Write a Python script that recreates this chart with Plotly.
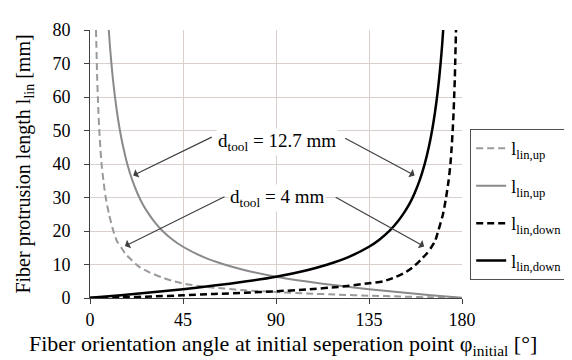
import plotly.graph_objects as go

# ---- data ----
# l_lin,up for d_tool = 4 mm (grey dashed)
phi_up_4 = [2.9, 3.1, 3.3, 3.5, 3.8, 4.1, 4.5, 5.0, 5.6, 6.5, 7.6, 9.2, 11.3, 13.0, 15.2, 17.0, 19.5, 24, 29, 35, 40, 46, 55, 65, 75, 90, 105, 120, 135, 150, 165, 180]
l_up_4 = [80, 75, 70, 65, 60, 55, 50, 45, 40, 35, 30, 25, 20, 17, 15, 13.3, 11.7, 9.2, 7.6, 6.1, 5.1, 4.2, 3.4, 2.8, 2.3, 1.8, 1.35, 1.0, 0.7, 0.45, 0.2, 0.0]

# l_lin,up for d_tool = 12.7 mm (grey solid)
phi_up_127 = [9.1, 9.6, 10.3, 11.1, 12.0, 13.1, 14.4, 16.0, 18.0, 20.5, 23.0, 25.5, 28.0, 31.0, 35, 40, 45, 55, 65, 75, 90, 105, 120, 135, 150, 165, 180]
l_up_127 = [80, 75.6, 70.4, 65.3, 60.4, 55.3, 50.3, 45.2, 40.1, 35.1, 31.2, 28.0, 25.5, 22.9, 20.1, 17.4, 15.3, 12.2, 10.0, 8.3, 6.35, 4.9, 3.7, 2.6, 1.7, 0.85, 0.1]

# l_lin,down for d_tool = 4 mm (black dashed)
phi_down_4 = [0, 15, 30, 45, 60, 75, 90, 105, 120, 135, 142, 148, 153, 157, 160.5, 163, 165, 167, 168.5, 170.8, 172.3, 173.5, 174.4, 175.0, 175.5, 175.9, 176.2, 176.5, 176.7, 176.9, 177.1]
l_down_4 = [0.0, 0.2, 0.45, 0.8, 1.2, 1.55, 2.0, 2.55, 3.3, 4.4, 5.0, 6.3, 7.8, 9.6, 11.7, 13.3, 15.0, 17, 20, 25, 30, 35, 40, 45, 50, 55, 60, 65, 70, 75, 80]

# l_lin,down for d_tool = 12.7 mm (black solid)
phi_down_127 = [0, 15, 30, 45, 60, 75, 90, 105, 115, 125, 135, 140, 145, 149, 152, 154.5, 157, 159.5, 162, 164, 165.6, 166.9, 168, 168.9, 169.7, 170.4, 170.9]
l_down_127 = [0.1, 0.85, 1.7, 2.6, 3.7, 4.9, 6.35, 8.3, 10.0, 12.2, 15.3, 17.4, 20.1, 22.9, 25.5, 28.0, 31.2, 35.1, 40.1, 45.2, 50.3, 55.3, 60.4, 65.3, 70.4, 75.6, 80]

x_ticks = [0, 45, 90, 135, 180]
y_ticks = [0, 10, 20, 30, 40, 50, 60, 70, 80]

FONT = "Liberation Serif"

fig = go.Figure()

traces = [
    (phi_up_4, l_up_4, "l<sub>lin,up</sub>", "#9a9a9a", 2, "7px,4px"),
    (phi_up_127, l_up_127, "l<sub>lin,up</sub>", "#8a8a8a", 2, "solid"),
    (phi_down_4, l_down_4, "l<sub>lin,down</sub>", "#000000", 2.5, "7px,4px"),
    (phi_down_127, l_down_127, "l<sub>lin,down</sub>", "#000000", 2.5, "solid"),
]
for i, (xs, ys, name, col, w, dash) in enumerate(traces):
    fig.add_trace(go.Scatter(
        x=xs, y=ys, mode="lines", name=name,
        legendgroup=f"g{i}",
        line=dict(color=col, width=w, dash=dash, shape="spline", smoothing=0.6),
    ))

grid_col = "#d9cfcb"
axis_col = "#404040"

fig.update_xaxes(
    range=[0, 180], tickvals=x_ticks, ticktext=[str(v) for v in x_ticks],
    showgrid=True, gridcolor=grid_col, gridwidth=1,
    showline=True, linecolor=axis_col, linewidth=1,
    ticks="outside", ticklen=5, tickcolor=axis_col,
    zeroline=False, mirror=False,
    tickfont=dict(family=FONT, size=18, color="black"),
)
fig.update_yaxes(
    range=[0, 80], tickvals=y_ticks, ticktext=[str(v) for v in y_ticks],
    showgrid=True, gridcolor=grid_col, gridwidth=1,
    showline=True, linecolor=axis_col, linewidth=1,
    ticks="outside", ticklen=5, tickcolor=axis_col,
    ticklabelstandoff=10,
    zeroline=False,
    tickfont=dict(family=FONT, size=18, color="black"),
    title=dict(text="Fiber protrusion length l<sub>lin</sub> [mm]",
               font=dict(family=FONT, size=20, color="black"), standoff=16),
)

# labels
ann = []
ann.append(dict(x=0.518, y=-0.176, xref="paper", yref="paper", xanchor="center", yanchor="middle",
                text="Fiber orientation angle at initial seperation point φ<sub>initial</sub> [°]",
                showarrow=False, font=dict(family=FONT, size=22, color="black")))
ann.append(dict(x=90.7, y=46.5, xref="x", yref="y", text="d<sub>tool</sub> = 12.7 mm",
                showarrow=False, bgcolor="white",
                font=dict(family=FONT, size=19, color="black")))
ann.append(dict(x=90.7, y=29.8, xref="x", yref="y", text="d<sub>tool</sub> = 4 mm",
                showarrow=False, bgcolor="white",
                font=dict(family=FONT, size=19, color="black")))
# arrows (tip at curve, tail near label)
arrows = [
    (20.9, 36.6, 80, -39),
    (157.1, 36.6, -71, -38),
    (16.9, 15.5, 101, -50),
    (161.7, 15.4, -90, -50),
]
for (xt, yt, ax, ay) in arrows:
    ann.append(dict(x=xt, y=yt, xref="x", yref="y", ax=ax, ay=ay, text="",
                    showarrow=True, arrowhead=1, arrowsize=1.3, arrowwidth=1.2,
                    arrowcolor="#404040", standoff=0))

fig.update_layout(
    width=572, height=360,
    margin=dict(l=82, r=100, t=17, b=70),
    paper_bgcolor="white", plot_bgcolor="white",
    annotations=ann,
    legend=dict(x=1.022, y=0.63, xanchor="left", yanchor="top",
                bordercolor="#505050", borderwidth=1, bgcolor="white",
                font=dict(family=FONT, size=18, color="black"),
                traceorder="grouped", tracegroupgap=11, itemwidth=30),
    showlegend=True,
)

fig.write_html("out.html")
